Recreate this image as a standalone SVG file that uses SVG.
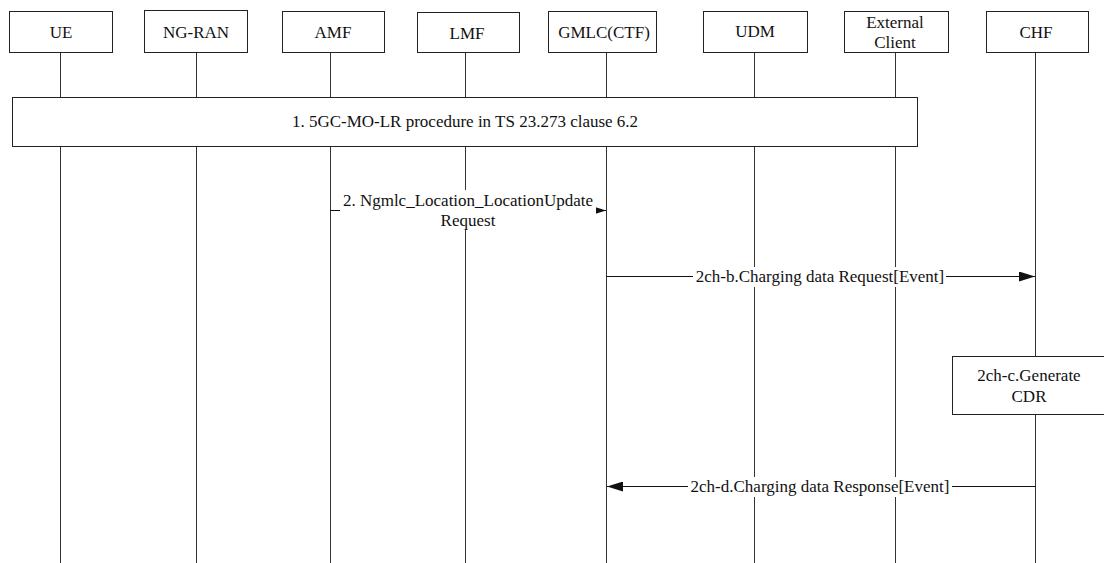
<svg xmlns="http://www.w3.org/2000/svg" width="1104" height="563" viewBox="0 0 1104 563">
<style>
.box{fill:#fff;stroke:#222;stroke-width:1}
.life{stroke:#333;stroke-width:1;fill:none}
.msg{stroke:#111;stroke-width:1;fill:none}
.t{font-family:'Liberation Serif','Times New Roman',Tinos,'Nimbus Roman','DejaVu Serif',serif;font-size:17px;fill:#111;text-anchor:middle}
.bg{fill:#fff;stroke:none}
</style>
<defs>
<marker id="ah" markerUnits="userSpaceOnUse" markerWidth="16" markerHeight="10" refX="16" refY="5" orient="auto">
<path d="M0,0 L16,5 L0,10 z" fill="#111"/>
</marker>
<marker id="ahs" markerUnits="userSpaceOnUse" markerWidth="11" markerHeight="8" refX="11" refY="4" orient="auto">
<path d="M0,0.5 L11,4 L0,7.5 z" fill="#111"/>
</marker>
</defs>
<rect width="1104" height="563" fill="#fff"/>
<g id="lifelines">
<line class="life" x1="60.5" y1="53" x2="60.5" y2="563"/>
<line class="life" x1="196.5" y1="53" x2="196.5" y2="563"/>
<line class="life" x1="330.5" y1="53" x2="330.5" y2="563"/>
<line class="life" x1="465.5" y1="53" x2="465.5" y2="563"/>
<line class="life" x1="606.5" y1="53" x2="606.5" y2="563"/>
<line class="life" x1="754.5" y1="53" x2="754.5" y2="563"/>
<line class="life" x1="895.5" y1="53" x2="895.5" y2="563"/>
<line class="life" x1="1035.5" y1="53" x2="1035.5" y2="563"/>
</g>
<g id="node-ue"><rect class="box" x="9.5" y="11.5" width="103" height="41"/><text class="t" x="61" y="38">UE</text></g>
<g id="node-ngran"><rect class="box" x="144.5" y="10.5" width="103" height="42"/><text class="t" x="196" y="38">NG-RAN</text></g>
<g id="node-amf"><rect class="box" x="282.5" y="11.5" width="102" height="41"/><text class="t" x="333" y="38">AMF</text></g>
<g id="node-lmf"><rect class="box" x="417.5" y="12.5" width="102" height="40"/><text class="t" x="467" y="39">LMF</text></g>
<g id="node-gmlc"><rect class="box" x="548.5" y="11.5" width="108" height="41"/><text class="t" x="604" y="38">GMLC(CTF)</text></g>
<g id="node-udm"><rect class="box" x="703.5" y="11.5" width="104" height="41"/><text class="t" x="755" y="37">UDM</text></g>
<g id="node-ext"><rect class="box" x="844.5" y="11.5" width="104" height="41"/><text class="t" x="895" y="28">External</text><text class="t" x="895" y="48">Client</text></g>
<g id="node-chf"><rect class="box" x="986.5" y="11.5" width="102" height="41"/><text class="t" x="1036" y="38">CHF</text></g>
<g id="step1"><rect class="box" x="12.5" y="97.5" width="905" height="49"/><text class="t" x="465" y="127">1. 5GC-MO-LR procedure in TS 23.273 clause 6.2</text></g>
<g id="step2ch-c"><rect class="box" x="952.5" y="356.5" width="152" height="58"/><text class="t" x="1029" y="381">2ch-c.Generate</text><text class="t" x="1029" y="402">CDR</text></g>
<g id="connectors">
<g id="msg2">
<line class="msg" x1="330.5" y1="210.5" x2="606" y2="210.5" marker-end="url(#ahs)"/>
<rect class="bg" x="340" y="190" width="256" height="40"/>
<text class="t" x="468" y="206">2. Ngmlc_Location_LocationUpdate</text>
<text class="t" x="468" y="226">Request</text>
</g>
<g id="msg2ch-b">
<line class="msg" x1="606.5" y1="276.5" x2="1035" y2="276.5" marker-end="url(#ah)"/>
<rect class="bg" x="693" y="267" width="253" height="20"/>
<text class="t" x="820" y="282">2ch-b.Charging data Request[Event]</text>
</g>
<g id="msg2ch-d">
<line class="msg" x1="1035.5" y1="486.5" x2="607" y2="486.5" marker-end="url(#ah)"/>
<rect class="bg" x="688" y="477" width="264" height="20"/>
<text class="t" x="820" y="492">2ch-d.Charging data Response[Event]</text>
</g>
</g>
</svg>
